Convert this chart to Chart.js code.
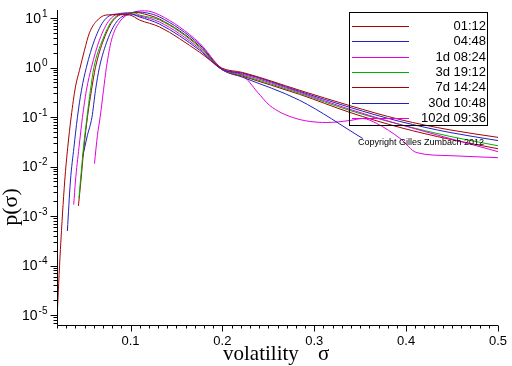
<!DOCTYPE html>
<html>
<head>
<meta charset="utf-8">
<script src="https://cdn.jsdelivr.net/npm/chart.js@4.4.0/dist/chart.umd.min.js"></script>
<style>
  html, body { margin: 0; padding: 0; background: #fff; }
  #wrap { width: 512px; height: 366px; }
</style>
</head>
<body>
<div id="wrap"><canvas id="chart" width="512" height="366"></canvas></div>
<script>
// legend entries and line colours
const seriesNames = ["01:12", "04:48", "1d 08:24", "3d 19:12", "7d 14:24", "30d 10:48", "102d 09:36"];
const seriesColors = ["#a80000", "#2020c0", "#e000e0", "#00b000", "#a80000", "#2020c0", "#e000e0"];

// tick labels
const xTickLabels = [0.1, 0.2, 0.3, 0.4, 0.5];
const yTickPowers = [1, 0, -1, -2, -3, -4, -5];

// volatility (sigma) and density p(sigma)
const sigma0112 = [0.0200, 0.0237, 0.0284, 0.0317, 0.0354, 0.0401, 0.0444, 0.0499, 0.0553, 0.0626, 0.0735, 0.0858, 0.0989, 0.1098, 0.1316, 0.1752, 0.1992, 0.2221, 0.2842, 0.3387, 0.3932, 0.4477, 0.5];
const p0112 = [8.5e-6, 2.1e-4, 5.1e-3, 0.0245, 0.100, 0.407, 0.871, 2.24, 5.01, 8.51, 11.5, 11.7, 11.5, 9.12, 6.61, 2.04, 0.977, 0.794, 0.347, 0.170, 0.0891, 0.0550, 0.0389];

const sigma0448 = [0.0313, 0.0346, 0.0384, 0.0422, 0.0466, 0.0520, 0.0608, 0.0717, 0.0858, 0.1000, 0.1098, 0.1316, 0.1752, 0.1992, 0.2221, 0.2842, 0.3387, 0.3932, 0.4477, 0.5];
const p0448 = [5.0e-4, 5.1e-3, 0.024, 0.098, 0.347, 1.01, 3.58, 9.1, 12.0, 12.0, 10.5, 7.55, 2.24, 0.925, 0.766, 0.330, 0.157, 0.0815, 0.0488, 0.0335];

const sigma1d = [0.0382, 0.0401, 0.0439, 0.0477, 0.0520, 0.0575, 0.0662, 0.0771, 0.0935, 0.1000, 0.1098, 0.1316, 0.1752, 0.1992, 0.2221, 0.2842, 0.3387, 0.3932, 0.4477, 0.5];
const p1d = [1.7e-3, 5.1e-3, 0.024, 0.098, 0.347, 1.01, 3.58, 9.1, 12.6, 12.3, 11.0, 8.3, 2.40, 0.925, 0.731, 0.316, 0.143, 0.0708, 0.0368, 0.0200];

const sigma3d = [0.0439, 0.0455, 0.0488, 0.0526, 0.0564, 0.0602, 0.0695, 0.0804, 0.0967, 0.1044, 0.1098, 0.1316, 0.1752, 0.1992, 0.2221, 0.2842, 0.3387, 0.3932, 0.4477, 0.5];
const p3d = [2.3e-3, 5.1e-3, 0.024, 0.098, 0.347, 1.01, 3.58, 9.1, 12.6, 12.6, 11.5, 9.1, 2.58, 0.925, 0.698, 0.301, 0.136, 0.0708, 0.0407, 0.0263];

const sigma7d = [0.0433, 0.0460, 0.0493, 0.0531, 0.0575, 0.0619, 0.0706, 0.0815, 0.0967, 0.1065, 0.1153, 0.1316, 0.1752, 0.1992, 0.2221, 0.2842, 0.3387, 0.3932, 0.4477, 0.5];
const p7d = [1.6e-3, 5.1e-3, 0.024, 0.098, 0.347, 1.01, 3.58, 9.1, 12.6, 12.9, 12.0, 9.5, 2.70, 0.925, 0.667, 0.287, 0.124, 0.0617, 0.0355, 0.0229];

const sigma30d = [0.0477, 0.0531, 0.0580, 0.0619, 0.0662, 0.0749, 0.0847, 0.0967, 0.1076, 0.1185, 0.1316, 0.1752, 0.1992, 0.2221, 0.2842, 0.3529];
const p30d = [0.0151, 0.0427, 0.098, 0.347, 1.01, 3.58, 8.3, 12.0, 13.2, 12.6, 10.5, 2.90, 0.925, 0.635, 0.217, 0.0368];

const sigma102d = [0.0608, 0.0640, 0.0669, 0.0706, 0.0738, 0.0793, 0.0880, 0.1011, 0.1153, 0.1316, 0.1752, 0.1992, 0.2221, 0.2384, 0.2515, 0.2766, 0.3136, 0.3387, 0.3529, 0.3681, 0.3932, 0.4117, 0.4477, 0.5];
const p102d = [0.0115, 0.0427, 0.098, 0.347, 1.01, 3.58, 8.3, 12.6, 14.0, 11.5, 3.11, 0.968, 0.698, 0.316, 0.172, 0.098, 0.0776, 0.0851, 0.0933, 0.0741, 0.0372, 0.0191, 0.0166, 0.0151];

const sigmaSets = [sigma0112, sigma0448, sigma1d, sigma3d, sigma7d, sigma30d, sigma102d];
const pSets = [p0112, p0448, p1d, p3d, p7d, p30d, p102d];

function toPoints(s, p) {
    return s.map((v, i) => ({ x: v, y: p[i] }));
}

const datasets = seriesNames.map((name, i) => ({
    label: name,
    data: toPoints(sigmaSets[i], pSets[i]),
    borderColor: seriesColors[i],
    backgroundColor: seriesColors[i],
    borderWidth: 1,
    pointRadius: 0,
    showLine: true,
    fill: false,
    cubicInterpolationMode: "monotone"
}));

// axes, ticks, legend box and titles drawn like the Maple original
const maplePlot = {
    id: "maplePlot",
    afterDatasetsDraw(chart) {
        const ctx = chart.ctx;
        const xs = chart.scales.x;
        const ys = chart.scales.y;
        const area = chart.chartArea;
        const left = Math.round(area.left) + 0.5;
        const bottom = Math.round(area.bottom) + 0.5;

        ctx.save();
        ctx.strokeStyle = "#000";
        ctx.lineWidth = 1;

        // axis lines
        ctx.beginPath();
        ctx.moveTo(left, area.top);
        ctx.lineTo(left, bottom);
        ctx.lineTo(area.right, bottom);
        ctx.stroke();

        // x ticks every 0.01
        ctx.beginPath();
        for (let i = 2; i <= 50; i++) {
            const px = Math.round(xs.getPixelForValue(i / 100)) + 0.5;
            const len = i % 10 === 0 ? 6 : 3;
            ctx.moveTo(px, bottom);
            ctx.lineTo(px, bottom + len);
        }
        // y ticks, decades and 2..9 minors
        for (let n = -6; n <= 1; n++) {
            for (let k = 1; k <= 9; k++) {
                const v = k * Math.pow(10, n);
                if (v < ys.min || v > ys.max) continue;
                const py = Math.round(ys.getPixelForValue(v)) + 0.5;
                const len = k === 1 ? 7 : 4;
                ctx.moveTo(left, py);
                ctx.lineTo(left - len, py);
            }
        }
        ctx.stroke();

        // tick labels
        ctx.fillStyle = "#000";
        ctx.font = "13px 'Liberation Sans', Arial, sans-serif";
        ctx.textAlign = "center";
        ctx.textBaseline = "middle";
        xTickLabels.forEach(v => {
            ctx.fillText(String(v), xs.getPixelForValue(v), bottom + 16);
        });

        yTickPowers.forEach(n => {
            const py = ys.getPixelForValue(Math.pow(10, n));
            const exp = n < 0 ? "-" + Math.abs(n) : String(n);
            ctx.font = "10px 'Liberation Sans', Arial, sans-serif";
            const ew = ctx.measureText(exp).width;
            const right = left - 10;
            ctx.textAlign = "left";
            ctx.textBaseline = "middle";
            ctx.fillText(exp, right - ew, py - 4);
            ctx.font = "14px 'Liberation Sans', Arial, sans-serif";
            ctx.textAlign = "right";
            ctx.fillText("10", right - ew - 1, py + 1);
        });

        // axis titles
        ctx.font = "21px 'Liberation Serif', 'Times New Roman', serif";
        ctx.textAlign = "left";
        ctx.textBaseline = "alphabetic";
        ctx.fillText("volatility", 223, 360);
        ctx.fillText("\u03c3", 318, 360);

        ctx.save();
        ctx.translate(17, 207);
        ctx.rotate(-Math.PI / 2);
        ctx.font = "22px 'Liberation Serif', 'Times New Roman', serif";
        ctx.textAlign = "center";
        ctx.fillText("p(\u03c3)", 0, 0);
        ctx.restore();

        // legend
        ctx.strokeStyle = "#000";
        ctx.strokeRect(349.5, 12.5, 138, 113);
        ctx.font = "13px 'Liberation Sans', Arial, sans-serif";
        ctx.textAlign = "right";
        ctx.textBaseline = "middle";
        seriesNames.forEach((name, i) => {
            const ly = Math.round(26 + i * 15.3) + 0.5;
            ctx.strokeStyle = seriesColors[i];
            ctx.beginPath();
            ctx.moveTo(352, ly);
            ctx.lineTo(409, ly);
            ctx.stroke();
            ctx.fillStyle = "#000";
            ctx.fillText(name, 486, ly);
        });

        // credit line
        ctx.font = "9px 'Liberation Sans', Arial, sans-serif";
        ctx.textAlign = "left";
        ctx.fillText("Copyright Gilles Zumbach 2012", 358, 143);

        ctx.restore();
    }
};

new Chart(document.getElementById("chart"), {
    type: "scatter",
    data: { datasets: datasets },
    options: {
        responsive: false,
        animation: false,
        devicePixelRatio: 1,
        layout: { padding: { top: 10, right: 14, left: 0, bottom: 0 } },
        plugins: {
            legend: { display: false },
            tooltip: { enabled: false }
        },
        scales: {
            x: {
                type: "linear",
                min: 0.02,
                max: 0.5,
                grid: { display: false, drawTicks: false },
                border: { display: false },
                ticks: { display: false },
                afterFit: scale => { scale.height = 41; }
            },
            y: {
                type: "logarithmic",
                min: Math.pow(10, -5.2),
                max: Math.pow(10, 1.162),
                grid: { display: false, drawTicks: false },
                border: { display: false },
                ticks: { display: false },
                afterFit: scale => { scale.width = 57; }
            }
        }
    },
    plugins: [maplePlot]
});
</script>
</body>
</html>
